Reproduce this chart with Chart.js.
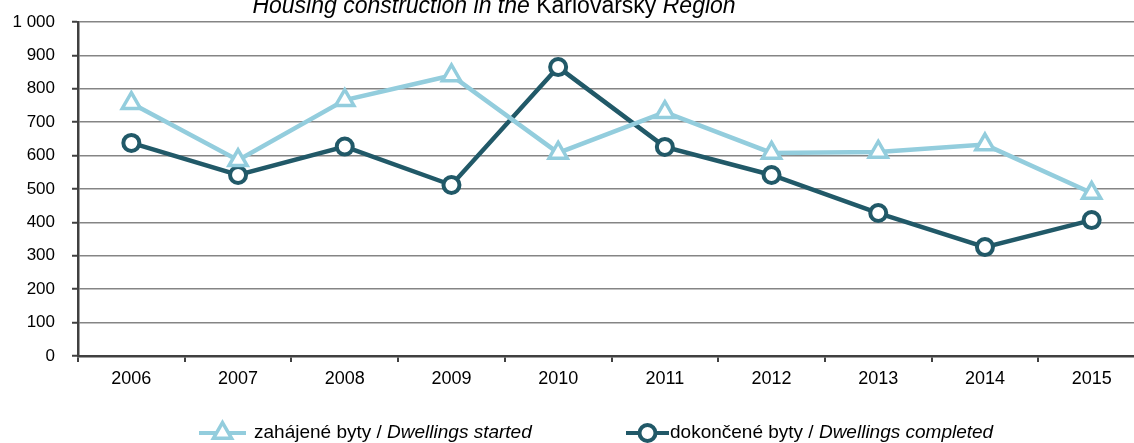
<!DOCTYPE html>
<html>
<head>
<meta charset="utf-8">
<script src="https://cdn.jsdelivr.net/npm/chart.js@4.4.1/dist/chart.umd.min.js"></script>
<style>
html,body{margin:0;padding:0;background:#fff;overflow:hidden;}
#wrap{position:absolute;left:0;top:0;width:1146px;height:443px;}
</style>
</head>
<body>
<div id="wrap"><canvas id="c" width="1146" height="443"></canvas></div>
<script>
const categories = ['2006','2007','2008','2009','2010','2011','2012','2013','2014','2015'];
const dwellingsStarted = [757, 586, 766, 840, 608, 730, 608, 611, 633, 488];
const dwellingsCompleted = [638, 542, 627, 512, 865, 626, 542, 428, 326, 407];
const yTicks = [0, 100, 200, 300, 400, 500, 600, 700, 800, 900, 1000];
const titleParts = [['Housing construction in the ', true], ['Karlovarský', false], [' Region', true]];
const legendItems = [
  {parts: [['zahájené byty / ', false], ['Dwellings started', true]], color: '#93CDDD', style: 'triangle'},
  {parts: [['dokončené byty / ', false], ['Dwellings completed', true]], color: '#215968', style: 'circle'}
];

const FONT = '"Liberation Sans", Arial, sans-serif';
const fmt = v => String(v).replace(/\B(?=(\d{3})+(?!\d))/g, ' ');

function drawParts(ctx, parts, x, y, size) {
  let cx = x;
  parts.forEach(([t, it]) => {
    ctx.font = (it ? 'italic ' : '') + size + 'px ' + FONT;
    ctx.fillText(t, cx, y);
    cx += ctx.measureText(t).width;
  });
  return cx;
}
function partsWidth(ctx, parts, size) {
  let w = 0;
  parts.forEach(([t, it]) => { ctx.font = (it ? 'italic ' : '') + size + 'px ' + FONT; w += ctx.measureText(t).width; });
  return w;
}
function noPad(s) { s.paddingTop = 0; s.paddingBottom = 0; s.paddingLeft = 0; s.paddingRight = 0; }

const extras = {
  id: 'extras',
  afterDraw(chart) {
    const ctx = chart.ctx;
    ctx.save();
    ctx.fillStyle = '#000';
    ctx.textBaseline = 'alphabetic';
    ctx.textAlign = 'left';
    const tw = partsWidth(ctx, titleParts, 23);
    drawParts(ctx, titleParts, 494 - tw / 2, 13, 23);
    const ly = 433;
    const pos = [{x0: 199, x1: 246, tx: 254}, {x0: 626, x1: 669, tx: 670}];
    legendItems.forEach((it, i) => {
      const p = pos[i];
      ctx.strokeStyle = it.color;
      ctx.lineWidth = 4;
      ctx.beginPath(); ctx.moveTo(p.x0, ly); ctx.lineTo(p.x1, ly); ctx.stroke();
      const mx = (p.x0 + p.x1) / 2;
      if (it.style === 'triangle') {
        ctx.fillStyle = '#fff'; ctx.lineWidth = 3.5;
        ctx.beginPath();
        const r = 10.5;
        ctx.moveTo(mx, ly - r);
        ctx.lineTo(mx + r * Math.sin(Math.PI / 3), ly + r / 2);
        ctx.lineTo(mx - r * Math.sin(Math.PI / 3), ly + r / 2);
        ctx.closePath(); ctx.fill(); ctx.stroke();
      } else {
        ctx.fillStyle = '#fff'; ctx.lineWidth = 4;
        ctx.beginPath(); ctx.arc(mx, ly, 8, 0, Math.PI * 2); ctx.fill(); ctx.stroke();
      }
      ctx.fillStyle = '#000';
      ctx.textBaseline = 'middle';
      drawParts(ctx, it.parts, p.tx, ly, 19);
    });
    ctx.restore();
  }
};

new Chart(document.getElementById('c'), {
  type: 'line',
  data: {
    labels: categories,
    datasets: [
      {label: 'zahájené byty / Dwellings started', data: dwellingsStarted, borderColor: '#93CDDD', backgroundColor: '#fff',
       borderWidth: 4.5, pointStyle: 'triangle', pointRadius: 10.5, pointBorderWidth: 3.5, pointBackgroundColor: '#fff', pointBorderColor: '#93CDDD', tension: 0},
      {label: 'dokončené byty / Dwellings completed', data: dwellingsCompleted, borderColor: '#215968', backgroundColor: '#fff',
       borderWidth: 4.5, pointStyle: 'circle', pointRadius: 8, pointBorderWidth: 4, pointBackgroundColor: '#fff', pointBorderColor: '#215968', tension: 0}
    ]
  },
  options: {
    responsive: false,
    animation: false,
    devicePixelRatio: 1,
    layout: {autoPadding: false, padding: {top: 22, right: 1, left: 0, bottom: 0}},
    plugins: {legend: {display: false}, title: {display: false}, tooltip: {enabled: false}},
    scales: {
      x: {
        offset: true,
        grid: {offset: true, drawOnChartArea: false, drawTicks: true, tickLength: 6, color: '#404040', lineWidth: 2},
        border: {display: true, color: '#404040', width: 2.5},
        ticks: {color: '#000', font: {family: FONT, size: 18}, padding: 6, maxRotation: 0},
        afterFit(s) { s.height = 87; noPad(s); }
      },
      y: {
        min: 0, max: 1000,
        afterBuildTicks(s) { s.ticks = yTicks.map(v => ({value: v})); },
        grid: {color: '#858585', lineWidth: 1.5, tickLength: 6, drawTicks: true, tickColor: '#404040', tickWidth: 2},
        border: {display: true, color: '#404040', width: 2.5},
        ticks: {color: '#000', font: {family: FONT, size: 17}, padding: 17, callback: v => fmt(v)},
        afterFit(s) { s.width = 78; noPad(s); }
      }
    }
  },
  plugins: [extras]
});
</script>
</body>
</html>
